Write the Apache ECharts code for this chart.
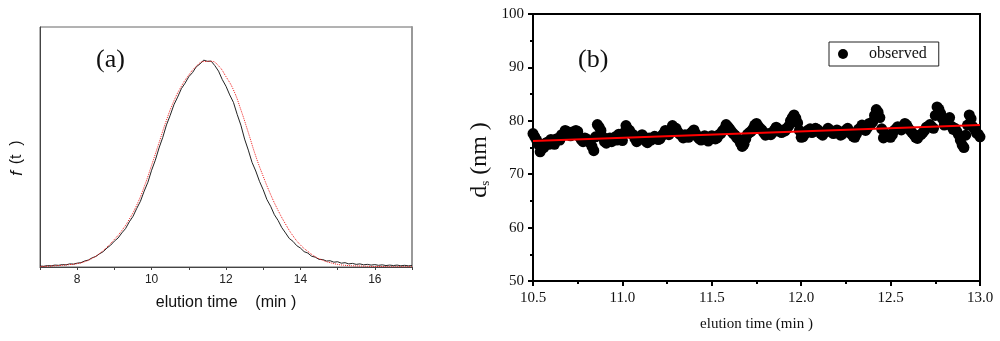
<!DOCTYPE html>
<html><head><meta charset="utf-8">
<script src="https://cdn.jsdelivr.net/npm/echarts@6/dist/echarts.min.js"></script>
<style>html,body{margin:0;padding:0;background:#fff}#c{width:1000px;height:341px}</style>
</head><body><div id="c"></div>
<script>
// Panel (a): measured elution profile f(t) (black) and fitted curve (red dotted)
const timeMeasured = [7.0,7.1,7.2,7.3,7.4,7.5,7.6,7.7,7.8,7.9,8.0,8.1,8.2,8.3,8.4,8.5,8.6,8.7,8.8,8.9,9.0,9.1,9.2,9.3,9.4,9.5,9.6,9.7,9.8,9.9,10.0,10.1,10.2,10.3,10.4,10.5,10.6,10.7,10.8,10.9,11.0,11.1,11.2,11.3,11.4,11.5,11.6,11.7,11.8,11.9,12.0,12.1,12.2,12.3,12.4,12.5,12.6,12.7,12.8,12.9,13.0,13.1,13.2,13.3,13.4,13.5,13.6,13.7,13.8,13.9,14.0,14.1,14.2,14.3,14.4,14.5,14.6,14.7,14.8,14.9,15.0,15.1,15.2,15.3,15.4,15.5,15.6,15.7,15.8,15.9,16.0,16.1,16.2,16.3,16.4,16.5,16.6,16.7,16.8,16.9,17.0];
const fMeasured = [0.004,0.003,0.006,0.005,0.008,0.007,0.010,0.009,0.013,0.012,0.016,0.018,0.025,0.029,0.038,0.044,0.055,0.064,0.079,0.091,0.108,0.121,0.142,0.160,0.188,0.211,0.244,0.274,0.316,0.353,0.403,0.445,0.496,0.540,0.592,0.632,0.676,0.708,0.743,0.766,0.793,0.810,0.834,0.846,0.862,0.857,0.858,0.839,0.816,0.781,0.753,0.717,0.686,0.636,0.591,0.533,0.487,0.436,0.400,0.357,0.322,0.281,0.253,0.218,0.194,0.164,0.142,0.119,0.107,0.089,0.079,0.064,0.058,0.045,0.041,0.032,0.031,0.025,0.026,0.020,0.022,0.016,0.018,0.013,0.015,0.011,0.013,0.009,0.011,0.008,0.010,0.007,0.009,0.006,0.008,0.006,0.008,0.005,0.007,0.005,0.006];
const timeFit = [7.0,7.2,7.4,7.6,7.8,8.0,8.2,8.4,8.6,8.8,9.0,9.2,9.4,9.6,9.8,10.0,10.2,10.4,10.6,10.8,11.0,11.2,11.4,11.6,11.8,12.0,12.2,12.4,12.6,12.8,13.0,13.2,13.4,13.6,13.8,14.0,14.2,14.4,14.6,14.8,15.0,15.2,15.4,15.6,15.8,16.0,16.2,16.4,16.6,16.8,17.0];
const fFit = [0.002,0.003,0.005,0.007,0.010,0.014,0.022,0.036,0.056,0.083,0.115,0.152,0.199,0.258,0.334,0.424,0.518,0.612,0.692,0.753,0.800,0.836,0.856,0.857,0.838,0.793,0.738,0.655,0.560,0.462,0.378,0.302,0.236,0.179,0.130,0.092,0.065,0.043,0.028,0.018,0.011,0.007,0.005,0.004,0.003,0.002,0.002,0.001,0.001,0.001,0.001];

// Panel (b): observed d_s (nm) vs elution time, plus linear fit
const timeObs = [10.50,10.52,10.54,10.56,10.58,10.60,10.62,10.64,10.66,10.68,10.70,10.72,10.74,10.76,10.78,10.80,10.82,10.84,10.86,10.88,10.90,10.92,10.94,10.96,10.98,11.00,11.02,11.04,11.06,11.08,11.10,11.12,11.14,11.16,11.18,11.20,11.22,11.24,11.26,11.28,11.30,11.32,11.34,11.36,11.38,11.40,11.42,11.44,11.46,11.48,11.50,11.52,11.54,11.56,11.58,11.60,11.62,11.64,11.66,11.68,11.70,11.72,11.74,11.76,11.78,11.80,11.82,11.84,11.86,11.88,11.90,11.92,11.94,11.96,11.98,12.00,12.02,12.04,12.06,12.08,12.10,12.12,12.14,12.16,12.18,12.20,12.22,12.24,12.26,12.28,12.30,12.32,12.34,12.36,12.38,12.40,12.42,12.44,12.46,12.48,12.50,12.52,12.54,12.56,12.58,12.60,12.62,12.64,12.66,12.68,12.70,12.72,12.74,12.76,12.78,12.80,12.82,12.84,12.86,12.88,12.90,12.92,12.94,12.96,12.98,13.00];
const dsObs = [77.6,76.4,74.2,75.0,76.0,76.5,75.6,76.7,77.4,78.2,77.7,77.9,78.2,77.0,76.1,76.6,75.8,74.4,79.3,78.2,76.1,76.6,76.1,77.0,77.5,76.3,79.1,78.2,77.4,76.1,76.8,77.0,75.9,76.4,77.1,76.5,77.2,78.2,77.4,79.1,78.6,77.5,76.8,77.0,77.6,78.3,77.0,76.4,77.2,76.2,77.2,76.6,77.4,78.1,79.3,78.5,77.6,76.8,75.8,75.6,77.5,78.0,79.2,79.0,78.3,77.3,77.6,77.8,78.8,78.0,78.3,78.6,80.0,81.1,79.6,76.9,77.5,78.3,77.8,78.6,78.1,77.3,78.0,78.3,77.6,78.3,77.3,78.0,78.6,77.5,76.9,78.4,79.2,78.2,79.5,79.8,82.1,80.6,76.8,77.3,76.9,78.2,78.9,78.3,79.5,78.6,77.8,76.9,77.3,77.8,78.8,79.3,78.6,82.6,81.4,79.2,80.2,79.0,78.6,77.4,75.5,77.3,81.1,78.9,77.7,77.0];
const timeObs2 = [10.51,10.53,10.55,10.57,10.59,10.61,10.63,10.65,10.67,10.69,10.71,10.73,10.75,10.77,10.79,10.81,10.83,10.85,10.87,10.89,10.91,10.93,10.95,10.97,10.99,11.01,11.03,11.05,11.07,11.09,11.11,11.13,11.15,11.17,11.19,11.21,11.23,11.25,11.27,11.29,11.31,11.33,11.35,11.37,11.39,11.41,11.43,11.45,11.47,11.49,11.51,11.53,11.55,11.57,11.59,11.61,11.63,11.65,11.67,11.69,11.71,11.73,11.75,11.77,11.79,11.81,11.83,11.85,11.87,11.89,11.91,11.93,11.95,11.97,11.99,12.01,12.03,12.05,12.07,12.09,12.11,12.13,12.15,12.17,12.19,12.21,12.23,12.25,12.27,12.29,12.31,12.33,12.35,12.37,12.39,12.41,12.43,12.45,12.47,12.49,12.51,12.53,12.55,12.57,12.59,12.61,12.63,12.65,12.67,12.69,12.71,12.73,12.75,12.77,12.79,12.81,12.83,12.85,12.87,12.89,12.91,12.93,12.95,12.97,12.99];
const dsObs2 = [77.0,75.6,74.8,75.8,75.6,76.3,76.6,76.4,77.5,78.0,77.2,77.6,78.0,76.5,76.8,76.2,75.2,77.0,78.8,77.0,75.8,76.8,76.5,76.4,77.0,77.8,78.5,77.6,76.7,76.5,77.4,76.2,76.8,76.6,76.9,76.6,77.6,77.9,78.3,78.2,77.9,77.3,77.4,76.9,77.9,77.6,76.6,76.8,76.9,76.6,77.0,76.8,77.6,78.5,78.9,78.0,77.3,76.6,75.2,76.6,77.8,78.5,79.5,78.6,77.8,77.5,77.4,78.3,78.5,77.8,78.1,79.0,80.6,80.5,78.2,77.0,77.9,78.5,78.0,78.4,77.6,77.8,78.6,77.9,78.0,77.8,77.5,78.3,78.0,77.1,77.6,78.6,78.9,78.7,79.4,81.0,81.6,78.5,77.6,77.0,77.4,78.5,78.7,78.9,79.2,78.2,77.4,76.7,77.4,78.2,79.0,78.9,81.0,82.2,80.4,79.6,80.6,78.4,78.0,76.4,75.0,79.2,80.4,78.4,77.5];
const timeLine = [10.5, 13.0];
const dsLine = [76.2, 79.2];

const zip = (a, b) => a.map((v, i) => [v, b[i]]);
const serif = 'Liberation Serif';
const sans = 'Liberation Sans';

const chart = echarts.init(document.getElementById('c'), null, {renderer: 'canvas'});
chart.setOption({
  animation: false,
  backgroundColor: '#fff',
  grid: [
    {left: 40, right: 588, top: 27, bottom: 74, show: true, borderColor: '#666', borderWidth: 1},
    {left: 533, right: 20, top: 14, bottom: 60, show: true, borderColor: '#000', borderWidth: 2}
  ],
  legend: {
    data: ['observed'],
    left: 829, top: 42,
    orient: 'horizontal',
    icon: 'circle',
    itemWidth: 30, itemHeight: 10,
    padding: [4, 12, 4, 9],
    borderColor: '#222', borderWidth: 1,
    itemStyle: {opacity: 1},
    textStyle: {fontFamily: serif, fontSize: 16, color: '#111', padding: [0, 0, 0, 6]}
  },
  xAxis: [
    {
      gridIndex: 0, type: 'value', min: 7, max: 17, interval: 1,
      name: 'elution time    (min )', nameLocation: 'middle', nameGap: 28,
      nameTextStyle: {fontFamily: sans, fontSize: 16, color: '#111'},
      axisLine: {lineStyle: {color: '#444', width: 1}},
      axisTick: {inside: false, length: 3, lineStyle: {color: '#444'}},
      axisLabel: {fontFamily: sans, fontSize: 12, color: '#222', margin: 7,
        formatter: v => (v % 2 === 0 && v > 7 && v < 17) ? String(v) : ''},
      splitLine: {show: false}
    },
    {
      gridIndex: 1, type: 'value', min: 10.5, max: 13.0, interval: 0.5,
      name: 'elution time (min )', nameLocation: 'middle', nameGap: 36,
      nameTextStyle: {fontFamily: serif, fontSize: 15, color: '#111'},
      axisLine: {lineStyle: {color: '#000', width: 2}},
      axisTick: {inside: false, length: 5, lineStyle: {color: '#000', width: 2}},
      minorTick: {show: true, splitNumber: 2, length: 3, lineStyle: {color: '#000', width: 2}},
      axisLabel: {fontFamily: serif, fontSize: 15, color: '#111', margin: 10,
        formatter: v => v.toFixed(1)},
      splitLine: {show: false}
    }
  ],
  yAxis: [
    {
      gridIndex: 0, type: 'value', min: 0, max: 1,
      axisLine: {show: true, lineStyle: {color: '#444', width: 1}},
      axisTick: {show: false}, axisLabel: {show: false}, splitLine: {show: false}
    },
    {
      gridIndex: 0, type: 'value', min: 0, max: 1, position: 'right',
      axisLine: {show: true, lineStyle: {color: '#999', width: 2}},
      axisTick: {show: false}, axisLabel: {show: false}, splitLine: {show: false}
    },
    {
      gridIndex: 1, type: 'value', min: 50, max: 100, interval: 10,
      axisLine: {show: true, lineStyle: {color: '#000', width: 2}},
      axisTick: {inside: false, length: 5, lineStyle: {color: '#000', width: 2}},
      minorTick: {show: true, splitNumber: 2, length: 3, lineStyle: {color: '#000', width: 2}},
      axisLabel: {fontFamily: serif, fontSize: 15, color: '#111', margin: 9},
      splitLine: {show: false}
    }
  ],
  graphic: [
    {type: 'text', left: 96, top: 47, style: {text: '(a)', font: '26px "Liberation Serif"', fill: '#111'}},
    {type: 'text', left: 578, top: 47, style: {text: '(b)', font: '26px "Liberation Serif"', fill: '#111'}},
    {type: 'text', x: 17, y: 158, rotation: Math.PI / 2,
      style: {text: '{i|f}  {t|(t  )}', align: 'center', verticalAlign: 'middle',
        rich: {
          i: {fontFamily: sans, fontStyle: 'italic', fontSize: 17, fill: '#111'},
          t: {fontFamily: sans, fontSize: 16, fill: '#111'}
        }}},
    {type: 'text', x: 480, y: 160, rotation: Math.PI / 2,
      style: {text: '{d|d}{s|s}{n| (nm )}', align: 'center', verticalAlign: 'middle',
        rich: {
          d: {fontFamily: serif, fontSize: 24, fill: '#111'},
          s: {fontFamily: serif, fontSize: 13, fill: '#111', verticalAlign: 'bottom', padding: [12, 0, 0, 0]},
          n: {fontFamily: serif, fontSize: 24, fill: '#111'}
        }}}
  ],
  series: [
    {
      name: 'measured', type: 'line', xAxisIndex: 0, yAxisIndex: 0,
      data: zip(timeMeasured, fMeasured), showSymbol: false, symbol: 'none',
      lineStyle: {color: '#222', width: 1}, z: 3
    },
    {
      name: 'fit', type: 'line', xAxisIndex: 0, yAxisIndex: 0, smooth: true,
      data: zip(timeFit, fFit), showSymbol: false, symbol: 'none',
      lineStyle: {color: '#ee2222', width: 1, type: 'dotted'}, z: 4
    },
    {
      name: 'observed', type: 'scatter', xAxisIndex: 1, yAxisIndex: 2,
      data: zip(timeObs, dsObs).concat(zip(timeObs2, dsObs2)), symbol: 'circle', symbolSize: 11,
      itemStyle: {color: '#000', opacity: 1}, z: 3
    },
    {
      name: 'linear fit', type: 'line', xAxisIndex: 1, yAxisIndex: 2,
      data: zip(timeLine, dsLine), showSymbol: false, symbol: 'none',
      lineStyle: {color: '#ff0000', width: 2}, z: 5
    }
  ]
});
</script></body></html>
